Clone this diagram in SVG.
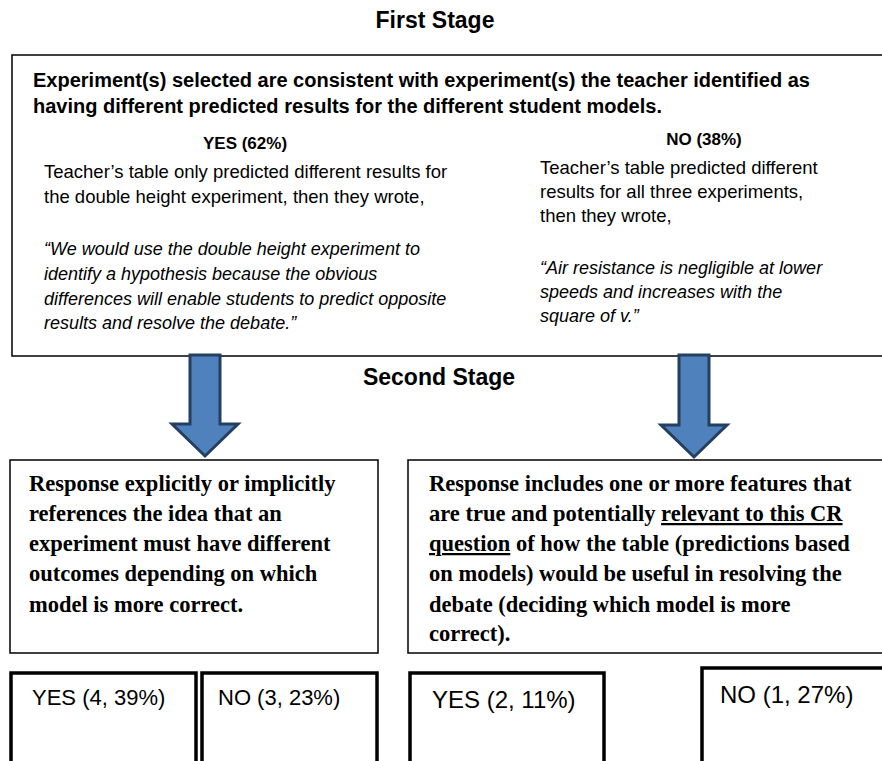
<svg xmlns="http://www.w3.org/2000/svg" width="882" height="761" viewBox="0 0 882 761">
<style>
.box{fill:#fff;stroke:#000;stroke-width:1.5}
.tbox{fill:#fff;stroke:#000;stroke-width:3.5}
.h{font-family:"Liberation Sans",Arial,sans-serif;font-weight:bold;font-size:23px;fill:#000}
.t{font-family:"Liberation Sans",Arial,sans-serif;font-weight:bold;font-size:20px;fill:#000}
.b{font-family:"Liberation Sans",Arial,sans-serif;font-weight:bold;font-size:17px;fill:#000}
.r{font-family:"Liberation Sans",Arial,sans-serif;font-size:18.5px;fill:#000}
.i{font-family:"Liberation Sans",Arial,sans-serif;font-size:18px;font-style:italic;fill:#000}
.s{font-family:"Liberation Serif","Times New Roman",serif;font-weight:bold;font-size:22.5px;fill:#000}
.l{font-family:"Liberation Sans",Arial,sans-serif;font-size:22px;fill:#000}
.ll{font-family:"Liberation Sans",Arial,sans-serif;font-size:24px;fill:#000}
.arrow{fill:#4F81BD;stroke:#243F60;stroke-width:3;stroke-linejoin:miter}
</style>
<rect width="882" height="761" fill="#fff"/>
<text class="h" x="435" y="28" text-anchor="middle">First Stage</text>
<g id="stage1">
<rect class="box" x="12" y="55" width="880" height="301"/>
<text class="t" x="33" y="87">Experiment(s) selected are consistent with experiment(s) the teacher identified as</text>
<text class="t" x="33" y="113">having different predicted results for the different student models.</text>
<text class="b" x="245" y="148.5" text-anchor="middle">YES (62%)</text>
<text class="r" x="44" y="178">Teacher’s table only predicted different results for</text>
<text class="r" x="44" y="203">the double height experiment, then they wrote,</text>
<text class="i" x="44" y="255">“We would use the double height experiment to</text>
<text class="i" x="44" y="280">identify a hypothesis because the obvious</text>
<text class="i" x="44" y="305">differences will enable students to predict opposite</text>
<text class="i" x="44" y="329">results and resolve the debate.”</text>
<text class="b" x="704" y="145" text-anchor="middle">NO (38%)</text>
<text class="r" x="540" y="174">Teacher’s table predicted different</text>
<text class="r" x="540" y="198">results for all three experiments,</text>
<text class="r" x="540" y="222">then they wrote,</text>
<text class="i" x="540" y="274">“Air resistance is negligible at lower</text>
<text class="i" x="540" y="298">speeds and increases with the</text>
<text class="i" x="540" y="322">square of v.”</text>
</g>
<g id="connectors">
<path class="arrow" d="M190,355 H220 V424 H238 L205,456 L172,424 H190 Z"/>
<path class="arrow" d="M679,355 H709 V425 H727 L694,457 L661,425 H679 Z"/>
</g>
<text class="h" x="439" y="385" text-anchor="middle">Second Stage</text>
<g id="stage2-left">
<rect class="box" x="10" y="460" width="368" height="193"/>
<text class="s" x="29" y="491">Response explicitly or implicitly</text>
<text class="s" x="29" y="521">references the idea that an</text>
<text class="s" x="29" y="551">experiment must have different</text>
<text class="s" x="29" y="581">outcomes depending on which</text>
<text class="s" x="29" y="612">model is more correct.</text>
</g>
<g id="stage2-right">
<rect class="box" x="408" y="460" width="490" height="193"/>
<text class="s" x="429" y="491">Response includes one or more features that</text>
<text class="s" x="429" y="521">are true and potentially <tspan text-decoration="underline">relevant to this CR</tspan></text>
<text class="s" x="429" y="551"><tspan text-decoration="underline">question</tspan> of how the table (predictions based</text>
<text class="s" x="429" y="581">on models) would be useful in resolving the</text>
<text class="s" x="429" y="612">debate (deciding which model is more</text>
<text class="s" x="429" y="641">correct).</text>
</g>
<g id="yes1">
<rect class="tbox" x="11" y="673" width="185" height="110"/>
<text class="l" x="32" y="705">YES (4, 39%)</text>
</g>
<g id="no1">
<rect class="tbox" x="202" y="673" width="175" height="110"/>
<text class="l" x="218" y="705">NO (3, 23%)</text>
</g>
<g id="yes2">
<rect class="tbox" x="410" y="673" width="194" height="110"/>
<text class="ll" x="432" y="708">YES (2, 11%)</text>
</g>
<g id="no2">
<rect class="tbox" x="702" y="668" width="200" height="115"/>
<text class="ll" x="720" y="703">NO (1, 27%)</text>
</g>
</svg>
